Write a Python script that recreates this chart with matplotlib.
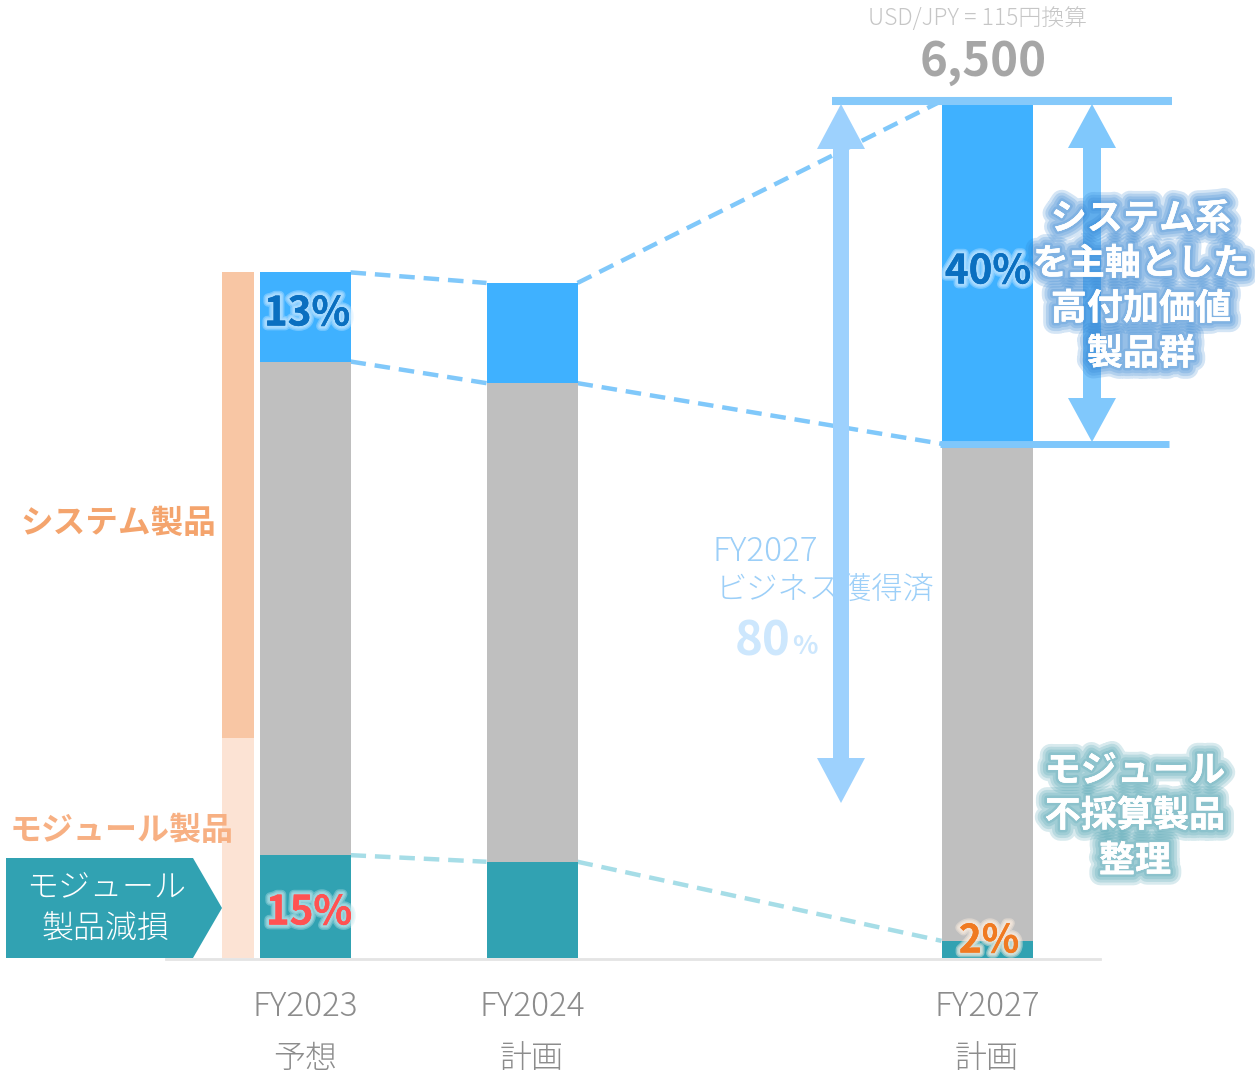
import matplotlib
matplotlib.use("Agg")
import matplotlib.pyplot as plt
import matplotlib.patheffects as pe
from matplotlib.patches import Polygon

plt.rcParams["font.family"] = ["Noto Sans CJK JP", "DejaVu Sans"]

# ---- data -----------------------------------------------------------------
categories = ["FY2023", "FY2024", "FY2027"]
period_labels = ["予想", "計画", "計画"]
totals = [5200, 5120, 6500]            # 売上高 (百万円)
high_value = [676, 760, 2600]          # システム系 高付加価値製品群
module_loss = [780, 730, 130]          # モジュール製品減損 / 不採算製品
high_value_labels = ["13%", None, "40%"]
module_labels = ["15%", None, "2%"]
system_products_2023 = 3530
module_products_2023 = 1670
captured_share = "80"
total_label = "6,500"
fx_note = "USD/JPY = 115円換算"

gray_part = [t - h - m for t, h, m in zip(totals, high_value, module_loss)]

# ---- colours --------------------------------------------------------------
BLUE = "#3fb1ff"
GRAY = "#bfbfbf"
TEAL = "#31a2b2"
LINE_BLUE = "#80c8fa"
DASH_TEAL = "#a6dde7"
ORANGE_DARK = "#f8c6a4"
ORANGE_LIGHT = "#fce3d4"

# ---- canvas ---------------------------------------------------------------
W, H = 1255, 1075
fig = plt.figure(figsize=(W / 100, H / 100), dpi=100)
ax = fig.add_axes([0, 0, 1, 1])
BASE_PX, TOP_PX = 958, 101
k = (BASE_PX - TOP_PX) / totals[2]


def vy(px):
    """pixel row -> value on the y scale"""
    return (BASE_PX - px) / k


ax.set_xlim(0, W)
ax.set_ylim(vy(H), vy(0))
ax.axis("off")

xpos = [305, 532, 987]
bw = 91

# baseline
ax.plot([166, 1100], [vy(959), vy(959)], color="#e4e4e4", lw=2, zorder=1)

# stacked bars
ax.bar(xpos, module_loss, bw, color=TEAL, zorder=3)
ax.bar(xpos, gray_part, bw, bottom=module_loss, color=GRAY, zorder=3)
bottoms_hv = [m + g for m, g in zip(module_loss, gray_part)]
ax.bar(xpos, high_value, bw, bottom=bottoms_hv, color=BLUE, zorder=3)

# FY2023 split column: module products / system products
col_x = 238
ax.bar(col_x, module_products_2023, 32, color=ORANGE_LIGHT, zorder=3)
ax.bar(col_x, system_products_2023, 32, bottom=module_products_2023,
       color=ORANGE_DARK, zorder=3)

# dashed connectors between neighbouring bars
for i in range(len(xpos) - 1):
    x0, x1 = xpos[i] + bw / 2, xpos[i + 1] - bw / 2
    for lvl0, lvl1, c in [(totals[i], totals[i + 1], LINE_BLUE),
                          (bottoms_hv[i], bottoms_hv[i + 1], LINE_BLUE),
                          (module_loss[i], module_loss[i + 1], DASH_TEAL)]:
        ax.plot([x0, x1], [lvl0, lvl1], color=c, lw=3.2,
                dashes=(3.5, 2.0), zorder=2)

# horizontal markers at FY2027 total and high-value boundary
ax.plot([832, 1172], [totals[2], totals[2]], color="#85c9fa", lw=5.8,
        solid_capstyle="butt", zorder=4)
ax.plot([940, 1169], [bottoms_hv[2], bottoms_hv[2]], color="#7fc7fb", lw=5,
        solid_capstyle="butt", zorder=4)


def double_arrow(xc, top_px, bot_px, shaft, head, head_len, color, z):
    pts = [(xc, top_px), (xc + head, top_px + head_len),
           (xc + shaft, top_px + head_len), (xc + shaft, bot_px - head_len),
           (xc + head, bot_px - head_len), (xc, bot_px),
           (xc - head, bot_px - head_len), (xc - shaft, bot_px - head_len),
           (xc - shaft, top_px + head_len), (xc - head, top_px + head_len)]
    pts = [(x, vy(y)) for x, y in pts]
    ax.add_patch(Polygon(pts, closed=True, facecolor=color, edgecolor="none",
                         zorder=z))


# text drawn under the large arrow
light_blue_txt = "#9ccff8"
ax.text(713, vy(552), "FY2027", color=light_blue_txt, fontsize=24,
        fontweight="light", ha="left", va="center", zorder=2)
ax.text(716, vy(590), "ビジネス獲得済", color=light_blue_txt, fontsize=22.5,
        fontweight="light", ha="left", va="center", zorder=2)
ax.text(791, vy(641), captured_share, color="#cde7fd", fontsize=34,
        fontweight="bold", ha="right", va="center", zorder=2)
ax.text(792, vy(647), "%", color="#cde7fd", fontsize=19,
        fontweight="bold", ha="left", va="center", zorder=2)

double_arrow(841, 104, 803, 8, 24, 45, "#9dd1fd", 5)
double_arrow(1092, 104, 442, 9, 24, 44, "#80c8fc", 5)

# left pentagon label
pent = [(6, 858), (193, 858), (222, 908), (193, 958), (6, 958)]
ax.add_patch(Polygon([(x, vy(y)) for x, y in pent], closed=True,
                     facecolor=TEAL, edgecolor="none", zorder=3))
ax.text(106, vy(888), "モジュール", color="white", fontsize=23,
        fontweight="light", ha="center", va="center", zorder=6)
ax.text(106, vy(928), "製品減損", color="white", fontsize=23,
        fontweight="light", ha="center", va="center", zorder=6)

ax.text(118, vy(523), "システム製品", color="#f4a46d", fontsize=23.5,
        fontweight="bold", ha="center", va="center", zorder=6)
ax.text(122, vy(831), "モジュール製品", color="#f7b083", fontsize=23,
        fontweight="bold", ha="center", va="center", zorder=6)


def glow(color, widths=(9, 6, 3), alpha=0.35):
    fx = [pe.withStroke(linewidth=w, foreground=color, alpha=alpha)
          for w in widths]
    return fx + [pe.Normal()]


# percentage labels on the bars
soft_blue = glow("#d2edff", (7, 5, 3), 0.35)
ax.text(307, vy(314), high_value_labels[0], color="#0a6fc0", fontsize=29,
        fontweight="bold", ha="center", va="center", zorder=7,
        path_effects=soft_blue)
ax.text(988, vy(272), high_value_labels[2], color="#0a6fc0", fontsize=29,
        fontweight="bold", ha="center", va="center", zorder=7,
        path_effects=soft_blue)
ax.text(309, vy(913), module_labels[0], color="#ff5252", fontsize=29,
        fontweight="bold", ha="center", va="center", zorder=7,
        path_effects=glow("#c8eaef", (7, 5, 3), 0.35))
ax.text(989, vy(941), module_labels[2], color="#f07a22", fontsize=28,
        fontweight="bold", ha="center", va="center", zorder=7,
        path_effects=glow("#fff0e2", (7, 5, 3), 0.4))

# total value and note
ax.text(983, vy(62), total_label, color="#a6a6a6", fontsize=34,
        fontweight="bold", ha="center", va="center", zorder=7)
ax.text(978, vy(19), fx_note, color="#c6c6c6", fontsize=16.5,
        fontweight="light", ha="center", va="center", zorder=7)

# callouts on the right
blue_glow = glow("#2a7fd0", (16, 12, 8, 4), 0.2)
for txt, y in zip(["システム系", "を主軸とした", "高付加価値", "製品群"],
                  [219, 264, 309, 354]):
    ax.text(1141, vy(y), txt, color="white", fontsize=26, fontweight="bold",
            ha="center", va="center", zorder=8, path_effects=blue_glow)

teal_glow = glow("#3f9aaa", (16, 12, 8, 4), 0.2)
for txt, y in zip(["モジュール", "不採算製品", "整理"], [771, 816, 861]):
    ax.text(1135, vy(y), txt, color="white", fontsize=26, fontweight="bold",
            ha="center", va="center", zorder=8, path_effects=teal_glow)

# category labels
for x, c, p in zip(xpos, categories, period_labels):
    ax.text(x, vy(1007), c, color="#8c8c8c", fontsize=24, fontweight="light",
            ha="center", va="center")
    ax.text(x, vy(1059), p, color="#8c8c8c", fontsize=23, fontweight="light",
            ha="center", va="center")

fig.savefig("out.png", dpi=100, facecolor="white")
